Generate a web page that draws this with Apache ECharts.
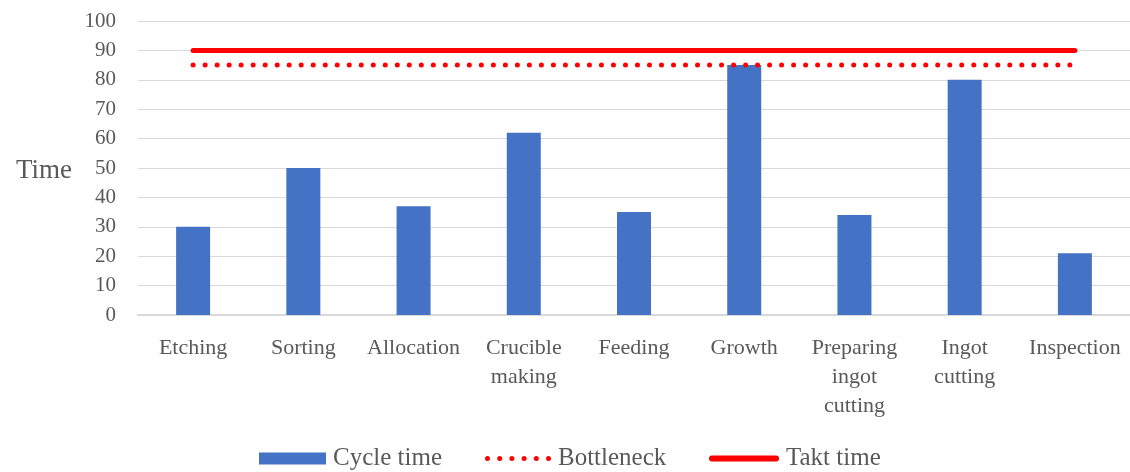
<!DOCTYPE html>
<html>
<head>
<meta charset="utf-8">
<script src="https://cdn.jsdelivr.net/npm/echarts@6/dist/echarts.min.js"></script>
<style>
  html, body { margin: 0; padding: 0; background: #fff; }
  #chart { width: 1130px; height: 472px; }
</style>
</head>
<body>
<div id="chart"></div>
<script>
// Process steps along the production line
const steps = ['Etching', 'Sorting', 'Allocation', 'Crucible\nmaking', 'Feeding', 'Growth', 'Preparing\ningot\ncutting', 'Ingot\ncutting', 'Inspection'];
// Cycle time of each step
const cycleTime = [30, 50, 37, 62, 35, 85, 34, 80, 21];
// Bottleneck level (slowest step) and takt time, constant across steps
const bottleneck = [85, 85, 85, 85, 85, 85, 85, 85, 85];
const taktTime = [90, 90, 90, 90, 90, 90, 90, 90, 90];

const FONT = '"Liberation Serif", "DejaVu Serif", serif';
const TEXT = '#595959';
const RED = '#ff0000';

// Legend icons: six round dots for the dotted series, a round-capped bar for the solid one
function dotRow(n, r, step) {
  let d = '';
  for (let i = 0; i < n; i++) {
    const cx = r + i * step;
    d += 'M' + (cx - r) + ',' + r + ' a' + r + ',' + r + ' 0 1,0 ' + (2 * r) + ',0 a' + r + ',' + r + ' 0 1,0 ' + (-2 * r) + ',0 ';
  }
  return 'path://' + d;
}
const dotIcon = dotRow(6, 2.5, 12.2);
const capIcon = 'path://M3,0 H67 A3,3 0 0 1 67,6 H3 A3,3 0 0 1 3,0 Z';

const legendText = { fontFamily: FONT, fontSize: 25, color: TEXT, padding: [0, 0, 0, 2] };
const legendBase = { top: 446, padding: 0, itemStyle: { borderWidth: 0 }, textStyle: legendText, selectedMode: true };

const chart = echarts.init(document.getElementById('chart'), null, { renderer: 'canvas' });
chart.setOption({
  animation: false,
  textStyle: { fontFamily: FONT, color: TEXT },
  grid: { left: 138, right: 0, top: 21, bottom: 157, containLabel: false },
  legend: [
    Object.assign({}, legendBase, { left: 259, itemWidth: 67, itemHeight: 12, data: [{ name: 'Cycle time', icon: 'rect' }] }),
    Object.assign({}, legendBase, { left: 485, itemWidth: 66, itemHeight: 5, data: [{ name: 'Bottleneck', icon: dotIcon }] }),
    Object.assign({}, legendBase, { left: 709, itemWidth: 70, itemHeight: 6, data: [{ name: 'Takt time', icon: capIcon }] })
  ],
  xAxis: {
    type: 'category',
    data: steps,
    axisLine: { lineStyle: { color: '#d9d9d9', width: 2 } },
    axisTick: { show: false },
    axisLabel: { fontFamily: FONT, fontSize: 22, color: TEXT, margin: 19, lineHeight: 29, interval: 0 }
  },
  yAxis: {
    type: 'value',
    min: 0,
    max: 100,
    interval: 10,
    name: 'Time',
    nameLocation: 'middle',
    nameRotate: 0,
    nameGap: 66,
    nameTextStyle: { fontFamily: FONT, fontSize: 27, color: TEXT, align: 'right', verticalAlign: 'top', lineHeight: 6 },
    axisLine: { show: false },
    axisTick: { show: false },
    axisLabel: { fontFamily: FONT, fontSize: 21, color: TEXT, margin: 22 },
    splitLine: { lineStyle: { color: '#d9d9d9', width: 1 } }
  },
  series: [
    {
      name: 'Cycle time',
      type: 'bar',
      data: cycleTime,
      barWidth: 34,
      itemStyle: { color: '#4472C4' }
    },
    {
      name: 'Bottleneck',
      type: 'line',
      data: bottleneck,
      symbol: 'none',
      itemStyle: { color: RED },
      lineStyle: { color: RED, width: 5, type: [0.01, 12], cap: 'round' },
      z: 3
    },
    {
      name: 'Takt time',
      type: 'line',
      data: taktTime,
      symbol: 'none',
      itemStyle: { color: RED },
      lineStyle: { color: RED, width: 5, cap: 'round' },
      z: 4
    }
  ]
});
</script>
</body>
</html>
